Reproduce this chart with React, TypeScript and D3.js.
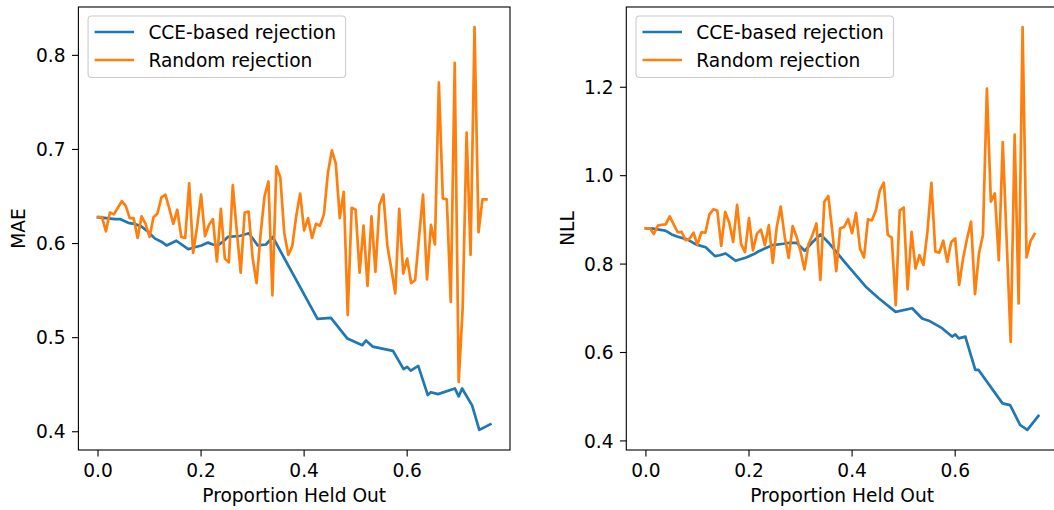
import React from "react";
import * as d3 from "d3";

// Held-out fractions for the random-rejection runs (evenly spaced grid).
const randomProportions = d3.range(99).map((i) => i / 130);

// MAE, random rejection
const maeRandom = [
  0.628, 0.628, 0.613, 0.633, 0.631, 0.638, 0.645, 0.640, 0.627, 0.627,
  0.606, 0.629, 0.621, 0.607, 0.628, 0.632, 0.649, 0.652, 0.637, 0.621,
  0.636, 0.607, 0.606, 0.664, 0.590, 0.618, 0.652, 0.608, 0.620, 0.626,
  0.581, 0.637, 0.584, 0.580, 0.662, 0.614, 0.569, 0.633, 0.634, 0.585,
  0.558, 0.609, 0.650, 0.666, 0.545, 0.682, 0.670, 0.611, 0.588, 0.597,
  0.629, 0.653, 0.614, 0.627, 0.606, 0.621, 0.619, 0.631, 0.675, 0.699,
  0.685, 0.627, 0.655, 0.524, 0.638, 0.636, 0.569, 0.619, 0.555, 0.629,
  0.570, 0.641, 0.652, 0.598, 0.573, 0.547, 0.637, 0.568, 0.584, 0.558,
  0.561, 0.607, 0.652, 0.562, 0.620, 0.599, 0.771, 0.648, 0.647, 0.538,
  0.792, 0.453, 0.531, 0.718, 0.588, 0.830, 0.612, 0.647, 0.647,
];

// NLL, random rejection
const nllRandom = [
  0.881, 0.881, 0.868, 0.887, 0.889, 0.890, 0.908, 0.890, 0.872, 0.873,
  0.854, 0.857, 0.871, 0.844, 0.872, 0.871, 0.912, 0.924, 0.921, 0.841,
  0.918, 0.894, 0.850, 0.934, 0.845, 0.827, 0.904, 0.831, 0.869, 0.878,
  0.843, 0.888, 0.803, 0.884, 0.930, 0.862, 0.814, 0.886, 0.862, 0.829,
  0.788, 0.845, 0.866, 0.892, 0.764, 0.941, 0.954, 0.875, 0.784, 0.881,
  0.884, 0.902, 0.870, 0.916, 0.835, 0.815, 0.901, 0.899, 0.922, 0.967,
  0.984, 0.866, 0.860, 0.707, 0.921, 0.928, 0.743, 0.873, 0.790, 0.820,
  0.798, 0.873, 0.984, 0.828, 0.826, 0.853, 0.805, 0.850, 0.858, 0.753,
  0.813, 0.858, 0.896, 0.732, 0.824, 0.866, 1.197, 0.941, 0.960, 0.809,
  1.076, 0.850, 0.624, 1.093, 0.711, 1.336, 0.815, 0.852, 0.868,
];

// MAE, CCE-based rejection
const maeCceProportions = [
  0, 0.033, 0.0425, 0.0587, 0.0703, 0.0845, 0.0973, 0.11, 0.123, 0.133,
  0.152, 0.175, 0.1876, 0.2006, 0.2134, 0.223, 0.2327, 0.2424, 0.252, 0.2747,
  0.2927, 0.31, 0.326, 0.339, 0.426, 0.452, 0.484, 0.513, 0.52, 0.533,
  0.5725, 0.593, 0.6, 0.607, 0.6215, 0.64, 0.646, 0.66, 0.6925, 0.7,
  0.7066, 0.726, 0.74, 0.7615,
];
const maeCce = [
  0.628, 0.626, 0.626, 0.622, 0.621, 0.618, 0.6125, 0.6055, 0.602, 0.598,
  0.603, 0.594, 0.596, 0.598, 0.601, 0.599, 0.598, 0.602, 0.607, 0.608,
  0.611, 0.598, 0.599, 0.607, 0.52, 0.521, 0.499, 0.492, 0.497, 0.4905,
  0.486, 0.4665, 0.469, 0.465, 0.47, 0.439, 0.442, 0.44, 0.446, 0.4375,
  0.446, 0.428, 0.402, 0.408,
];

// NLL, CCE-based rejection
const nllCceProportions = [
  0, 0.0155, 0.031, 0.0387, 0.05, 0.0618, 0.08, 0.098, 0.116, 0.134,
  0.143, 0.1546, 0.174, 0.1945, 0.2087, 0.219, 0.246, 0.2667, 0.278, 0.2924,
  0.3079, 0.3234, 0.3388, 0.3556, 0.3878, 0.4265, 0.4522, 0.4844, 0.5166, 0.5359,
  0.5488, 0.5745, 0.5939, 0.6003, 0.6068, 0.6196, 0.639, 0.6454, 0.6918, 0.7066,
  0.726, 0.74, 0.7614,
];
const nllCce = [
  0.881, 0.88, 0.877, 0.875, 0.867, 0.862, 0.856, 0.844, 0.838, 0.818,
  0.82, 0.824, 0.8075, 0.815, 0.822, 0.829, 0.843, 0.846, 0.848, 0.848,
  0.83, 0.85, 0.867, 0.847, 0.8015, 0.749, 0.722, 0.692, 0.7, 0.677,
  0.672, 0.655, 0.636, 0.641, 0.632, 0.636, 0.5605, 0.5605, 0.485, 0.481,
  0.436, 0.425, 0.4565,
];

const xTicks = [0, 0.2, 0.4, 0.6];
const maeTicks = [0.4, 0.5, 0.6, 0.7, 0.8];
const nllTicks = [0.4, 0.6, 0.8, 1.0, 1.2];
const seriesNames = ["CCE-based rejection", "Random rejection"];
const xLabel = "Proportion Held Out";

const BLUE = "#1f77b4";
const ORANGE = "#ff7f0e";
const FONT = "DejaVu Sans, sans-serif";
const FS = 18.6;

type Pt = [number, number];

function padded(values: number[]): [number, number] {
  const [lo, hi] = d3.extent(values) as [number, number];
  const m = (hi - lo) * 0.05;
  return [lo - m, hi + m];
}

interface PanelProps {
  left: number;
  right: number;
  cceX: number[];
  cceY: number[];
  randY: number[];
  yTicks: number[];
  yFormat: (v: number) => string;
  yLabel: string;
  yLabelX: number;
}

const TOP = 7;
const BOTTOM = 450;
const TICK = 6.4;

function Panel(p: PanelProps) {
  const allX = [...p.cceX, ...randomProportions];
  const allY = [...p.cceY, ...p.randY];
  const x = d3.scaleLinear().domain(padded(allX)).range([p.left, p.right]);
  const y = d3.scaleLinear().domain(padded(allY)).range([BOTTOM, TOP]);
  const line = d3
    .line<Pt>()
    .x((d) => x(d[0]))
    .y((d) => y(d[1]));
  const ccePts: Pt[] = p.cceX.map((v, i) => [v, p.cceY[i]]);
  const randPts: Pt[] = randomProportions.map((v, i) => [v, p.randY[i]]);
  const legX = p.left + 9.7;
  const legY = 16;
  const midX = (p.left + p.right) / 2;
  const midY = (TOP + BOTTOM) / 2;

  return (
    <g>
      <path d={line(ccePts) || ""} fill="none" stroke={BLUE} strokeWidth={2.7} strokeLinejoin="round" strokeLinecap="square" />
      <path d={line(randPts) || ""} fill="none" stroke={ORANGE} strokeWidth={2.7} strokeLinejoin="round" strokeLinecap="square" />
      <rect x={p.left} y={TOP} width={p.right - p.left} height={BOTTOM - TOP} fill="none" stroke="#000" strokeWidth={1.1} />
      {xTicks.map((t) => (
        <g key={"x" + t}>
          <line x1={x(t)} x2={x(t)} y1={BOTTOM} y2={BOTTOM + TICK} stroke="#000" strokeWidth={1.1} />
          <text x={x(t)} y={BOTTOM + TICK + 20.5} textAnchor="middle" fontSize={FS} fontFamily={FONT} fill="#000">
            {t.toFixed(1)}
          </text>
        </g>
      ))}
      {p.yTicks.map((t) => (
        <g key={"y" + t}>
          <line x1={p.left - TICK} x2={p.left} y1={y(t)} y2={y(t)} stroke="#000" strokeWidth={1.1} />
          <text x={p.left - TICK - 6.4} y={y(t) + 6.7} textAnchor="end" fontSize={FS} fontFamily={FONT} fill="#000">
            {p.yFormat(t)}
          </text>
        </g>
      ))}
      <text x={midX} y={502} textAnchor="middle" fontSize={FS} fontFamily={FONT} fill="#000">
        {xLabel}
      </text>
      <text
        transform={`translate(${p.yLabelX},${midY}) rotate(-90)`}
        textAnchor="middle"
        fontSize={FS}
        fontFamily={FONT}
        fill="#000"
      >
        {p.yLabel}
      </text>
      <g>
        <rect x={legX} y={legY} width={257.5} height={61.5} rx={3.5} fill="#fff" fillOpacity={0.8} stroke="#cccccc" strokeWidth={1.1} />
        {seriesNames.map((name, i) => (
          <g key={name}>
            <line x1={legX + 6.5} x2={legX + 46} y1={legY + 16 + i * 28} y2={legY + 16 + i * 28} stroke={i === 0 ? BLUE : ORANGE} strokeWidth={2.7} />
            <text x={legX + 60.3} y={legY + 22.5 + i * 28.4} fontSize={FS} fontFamily={FONT} fill="#000">
              {name}
            </text>
          </g>
        ))}
      </g>
    </g>
  );
}

export default function App() {
  return (
    <svg
      width={1054}
      height={510}
      viewBox="0 0 1054 510"
      style={{ position: "absolute", left: 0, top: 0, display: "block", background: "#fff" }}
    >
      <rect x={0} y={0} width={1054} height={510} fill="#fff" />
      <Panel
        left={78.4}
        right={510}
        cceX={maeCceProportions}
        cceY={maeCce}
        randY={maeRandom}
        yTicks={maeTicks}
        yFormat={(v) => v.toFixed(1)}
        yLabel="MAE"
        yLabelX={24.5}
      />
      <Panel
        left={626.3}
        right={1058}
        cceX={nllCceProportions}
        cceY={nllCce}
        randY={nllRandom}
        yTicks={nllTicks}
        yFormat={(v) => v.toFixed(1)}
        yLabel="NLL"
        yLabelX={573.5}
      />
    </svg>
  );
}
